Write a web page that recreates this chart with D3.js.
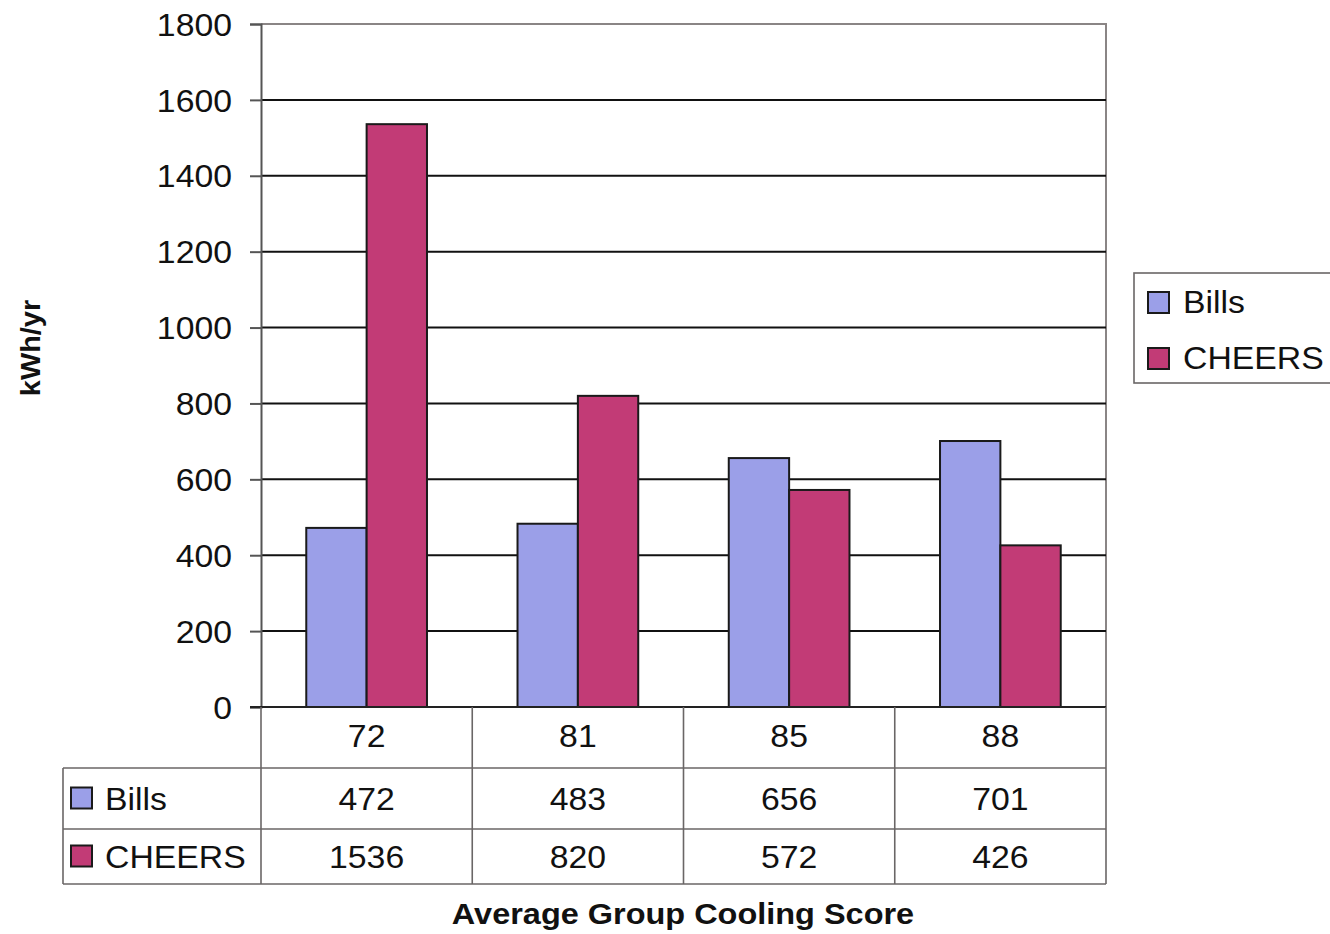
<!DOCTYPE html>
<html>
<head>
<meta charset="utf-8">
<script src="https://cdn.jsdelivr.net/npm/d3@7"></script>
<style>
  html, body { margin: 0; padding: 0; background: #fff; }
  svg { display: block; font-family: Arial, "Liberation Sans", sans-serif; }
</style>
</head>
<body>
<svg id="chart" width="1330" height="934"></svg>
<script>
// Cooling energy use by average group cooling score
const categories = ["72", "81", "85", "88"];
const seriesNames = ["Bills", "CHEERS"];
const billsValues = [472, 483, 656, 701];
const cheersValues = [1536, 820, 572, 426];
const yTicks = [0, 200, 400, 600, 800, 1000, 1200, 1400, 1600, 1800];
const colors = { Bills: "#9b9fe8", CHEERS: "#c23b76" };

const series = [
  { name: seriesNames[0], values: billsValues },
  { name: seriesNames[1], values: cheersValues }
];

const svg = d3.select("#chart");
const plot = { left: 261, right: 1106, top: 24, bottom: 707 };

// the type in this chart is set slightly wide
const STRETCH = 1.09;
function label(parent, px, py, str, opts = {}) {
  const g = parent.append("g")
    .attr("transform", `translate(${px},${py}) ${opts.rotate ? `rotate(${opts.rotate})` : ""} scale(${opts.stretch || STRETCH},1)`);
  g.append("text")
    .attr("text-anchor", opts.anchor || "start")
    .attr("dy", "0.36em")
    .attr("font-size", opts.size || 31)
    .attr("font-weight", opts.weight || "normal")
    .attr("fill", "#111")
    .text(str);
  return g;
}

const x = d3.scaleBand().domain(categories).range([plot.left, plot.right]).paddingInner(0).paddingOuter(0);
// gap between groups equals 1.5 bar widths
const groupW = x.bandwidth();
const barW = groupW / 3.5;
const gapW = groupW - 2 * barW;
const y = d3.scaleLinear().domain([0, 1800]).range([plot.bottom, plot.top]);

// plot frame (top and right edges)
svg.append("path")
  .attr("d", `M${plot.left},${plot.top}H${plot.right}V${plot.bottom}`)
  .attr("fill", "none").attr("stroke", "#8a8585").attr("stroke-width", 2);

// gridlines
svg.append("g").selectAll("line").data(yTicks.filter(d => d > 0 && d < 1800)).join("line")
  .attr("x1", plot.left).attr("x2", plot.right)
  .attr("y1", d => y(d)).attr("y2", d => y(d))
  .attr("stroke", "#111").attr("stroke-width", 2);

// y axis
const yAxis = d3.axisLeft(y).tickValues(yTicks).tickSize(11).tickFormat(d3.format("d"));
const ya = svg.append("g").attr("transform", `translate(${plot.left},0)`).call(yAxis);
ya.select(".domain").attr("stroke", "#555").attr("stroke-width", 2);
ya.selectAll(".tick line").attr("stroke", "#555").attr("stroke-width", 2);
ya.selectAll(".tick text").remove();
ya.selectAll(".tick").each(function (d) {
  label(d3.select(this), -29, 0, d3.format("d")(d), { anchor: "end" });
});

// bars
series.forEach((s, si) => {
  svg.append("g").selectAll("rect").data(s.values).join("rect")
    .attr("x", (d, i) => x(categories[i]) + gapW / 2 + si * barW)
    .attr("y", d => y(d))
    .attr("width", barW)
    .attr("height", d => y(0) - y(d))
    .attr("fill", colors[s.name])
    .attr("stroke", "#1a1a1a").attr("stroke-width", 2);
});

// baseline
svg.append("line").attr("x1", plot.left - 11).attr("x2", plot.right)
  .attr("y1", y(0)).attr("y2", y(0)).attr("stroke", "#222").attr("stroke-width", 2);

// data table
const table = { left: 63, rows: [707, 768, 829, 884] };
const tg = svg.append("g").attr("stroke", "#6a6666").attr("stroke-width", 1.6);
const colEdges = categories.map(c => x(c)).concat([plot.right]);
colEdges.forEach(cx => {
  tg.append("line").attr("x1", cx).attr("x2", cx).attr("y1", table.rows[0]).attr("y2", table.rows[3]);
});
tg.append("line").attr("x1", table.left).attr("x2", table.left).attr("y1", table.rows[1]).attr("y2", table.rows[3]);
[1, 2, 3].forEach(r => {
  tg.append("line").attr("x1", table.left).attr("x2", plot.right)
    .attr("y1", table.rows[r]).attr("y2", table.rows[r]);
});

const rowMid = r => (table.rows[r] + table.rows[r + 1]) / 2;
const header = svg.append("g");
categories.forEach(c => label(header, x(c) + groupW / 2, rowMid(0) - 2, c, { anchor: "middle" }));

series.forEach((s, si) => {
  const cy = rowMid(si + 1);
  svg.append("rect").attr("x", 71).attr("y", cy - 11).attr("width", 21).attr("height", 21)
    .attr("fill", colors[s.name]).attr("stroke", "#1a1a1a").attr("stroke-width", 2);
  label(svg, 105, cy, s.name);
  const rowG = svg.append("g");
  s.values.forEach((v, i) => label(rowG, x(categories[i]) + groupW / 2, cy, String(v), { anchor: "middle" }));
});

// legend
const lg = svg.append("g");
lg.append("rect").attr("x", 1134).attr("y", 273).attr("width", 210).attr("height", 110)
  .attr("fill", "#fff").attr("stroke", "#6a6666").attr("stroke-width", 1.6);
series.forEach((s, si) => {
  const cy = 302 + si * 56;
  lg.append("rect").attr("x", 1148).attr("y", cy - 10).attr("width", 21).attr("height", 21)
    .attr("fill", colors[s.name]).attr("stroke", "#1a1a1a").attr("stroke-width", 2);
  label(lg, 1183, cy, s.name);
});

// axis titles
label(svg, 30, 348, "kWh/yr", { anchor: "middle", rotate: -90, size: 27, weight: "bold", stretch: 1.07 });
label(svg, 683, 914, "Average Group Cooling Score", { anchor: "middle", size: 29, weight: "bold", stretch: 1.12 });
</script>
</body>
</html>
